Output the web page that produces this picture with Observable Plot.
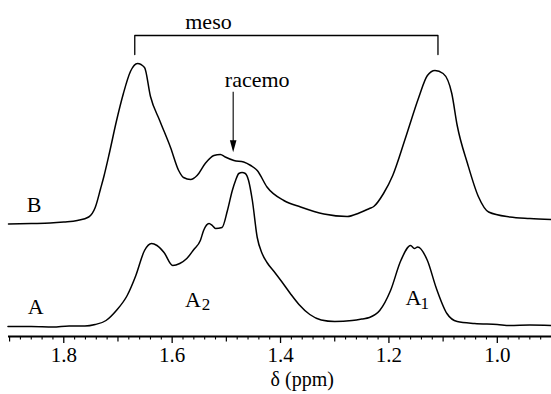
<!DOCTYPE html>
<html><head><meta charset="utf-8">
<script src="https://cdn.jsdelivr.net/npm/d3@7"></script>
<script src="https://cdn.jsdelivr.net/npm/@observablehq/plot@0.6"></script>
<style>
html,body{margin:0;padding:0;background:#fff}
svg{display:block}
svg, svg text{font-family:"Liberation Serif","Tinos","Times New Roman","DejaVu Serif",serif !important;}
</style>
</head><body><div id="chart"></div>
<script>
// Spectrum A (bottom trace): chemical shift (ppm) and intensity (arb. units)
const ppmA = [1.903,1.860,1.820,1.790,1.761,1.742,1.722,1.703,1.683,1.667,1.651,1.638,1.628,1.615,1.599,1.586,1.573,1.560,1.548,1.542,1.532,1.526,1.520,1.508,1.498,1.489,1.483,1.477,1.471,1.465,1.459,1.452,1.443,1.434,1.425,1.412,1.398,1.382,1.366,1.346,1.325,1.300,1.268,1.250,1.236,1.217,1.197,1.178,1.160,1.153,1.147,1.129,1.113,1.093,1.074,1.042,1.000,0.977,0.940,0.900];
const intA = [-1,-1,-1.5,-0.5,-0.5,1,5,15,30,50,75,82,80,73,60,62,67,76,85,95,102,100,97,98,115,135,145,152,153,152,145,125,88,72,63,54,44,32,21,11,5.5,4,5,6.5,8,15,35,65,80,77,78.5,65,38,12,4,2,1,0,0.5,0];
// Spectrum B (top trace)
const ppmB = [1.902,1.860,1.825,1.800,1.775,1.754,1.742,1.732,1.726,1.716,1.703,1.690,1.677,1.664,1.651,1.640,1.623,1.603,1.588,1.579,1.566,1.554,1.539,1.523,1.511,1.502,1.486,1.468,1.455,1.443,1.425,1.394,1.363,1.320,1.277,1.255,1.236,1.228,1.210,1.193,1.171,1.165,1.145,1.129,1.115,1.100,1.084,1.074,1.055,1.035,1.016,0.977,0.940,0.900];
const intB = [-2.5,-2,-1.5,-0.5,1,4.5,14,33,45,68,100,128,150,158,154,125,101,74,51,44,42,46,58,66,67,64.5,61,59.5,56,51,34.5,21,14.5,7.5,5,8.5,13,15,28,46,81,91,124,146,151,148,128,96,58,25,9.5,4.5,3,2];
// Axis ticks
const labeledTicks = [1.8,1.6,1.4,1.2,1.0];
const midTicks = [1.9,1.7,1.5,1.3,1.1];
const minorTicks = [1.88,1.86,1.84,1.82,1.78,1.76,1.74,1.72,1.68,1.66,1.64,1.62,1.58,1.56,1.54,1.52,1.48,1.46,1.44,1.42,1.38,1.36,1.34,1.32,1.28,1.26,1.24,1.22,1.18,1.16,1.14,1.12,1.08,1.06,1.04,1.02,0.98,0.96,0.94,0.92];
// Annotation anchors
const mesoPeaks = [1.669, 1.1095];
const racemoShift = [1.4874];
const axisTitle = "δ (ppm)";

const dataA = ppmA.map((p,i)=>({ppm:p, intensity:intA[i]}));
const dataB = ppmB.map((p,i)=>({ppm:p, intensity:intB[i]}));
const offA = 11, offB = 115;
const font = "Liberation Serif, Tinos, Times New Roman, DejaVu Serif, serif";
const bracket = [
  {ppm: mesoPeaks[0], v: 282}, {ppm: mesoPeaks[0], v: 301},
  {ppm: mesoPeaks[1], v: 301}, {ppm: mesoPeaks[1], v: 282}
];
const arrowHead = {draw(ctx) { ctx.moveTo(0, 0); ctx.lineTo(-3.3, -12); ctx.lineTo(3.3, -12); ctx.closePath(); }};
const T = {lineAnchor: "bottom", fill: "#000", fontFamily: font};

const chart = Plot.plot({
  width: 551, height: 394,
  marginLeft: 8, marginRight: 0, marginTop: 36, marginBottom: 58,
  style: {color: "#000", background: "#fff", overflow: "visible"},
  x: {domain: [1.902, 0.900], label: null},
  y: {domain: [0, 300], axis: null, label: null},
  marks: [
    Plot.line(dataA, {x: "ppm", y: d => d.intensity + offA, stroke: "#000", strokeWidth: 1.5, curve: "monotone-x"}),
    Plot.line(dataB, {x: "ppm", y: d => d.intensity + offB, stroke: "#000", strokeWidth: 1.5, curve: "monotone-x"}),
    Plot.ruleY([0], {stroke: "#000", strokeWidth: 1.8}),
    Plot.axisX(minorTicks, {tickSize: 3.5, tickFormat: () => "", strokeWidth: 1.1, label: null}),
    Plot.axisX(midTicks, {tickSize: 5.5, tickFormat: () => "", strokeWidth: 1.2, label: null}),
    Plot.axisX(labeledTicks, {tickSize: 7, tickPadding: 4, tickFormat: d3.format(".1f"), strokeWidth: 1.3, fontSize: 21, fontFamily: font, label: null}),
    Plot.text([axisTitle], {...T, x: 1.36, frameAnchor: "bottom", dy: 49, fontSize: 20}),
    // bracket and labels
    Plot.line(bracket, {x: "ppm", y: "v", stroke: "#000", strokeWidth: 1.3}),
    Plot.text(["meso"], {...T, x: 1.533, y: 307.7, fontSize: 22}),
    Plot.text(["racemo"], {...T, x: 1.4431, y: 250, fontSize: 22}),
    Plot.ruleX(racemoShift, {x: d => d, y1: 244.3, y2: 194, stroke: "#000", strokeWidth: 1.1}),
    Plot.dot(racemoShift, {x: d => d, y: 184.3, symbol: arrowHead, fill: "#000", stroke: "none"}),
    Plot.text(["B"], {...T, x: 1.855, y: 125, fontSize: 22}),
    Plot.text(["A"], {...T, x: 1.852, y: 23, fontSize: 22}),
    Plot.text(["A"], {...T, x: 1.5616, y: 30, fontSize: 22}),
    Plot.text(["2"], {...T, x: 1.5376, y: 27, fontSize: 17}),
    Plot.text(["A"], {...T, x: 1.1547, y: 32, fontSize: 22}),
    Plot.text(["1"], {...T, x: 1.134, y: 28, fontSize: 17})
  ]
});
document.getElementById("chart").appendChild(chart);
</script>
</body></html>
